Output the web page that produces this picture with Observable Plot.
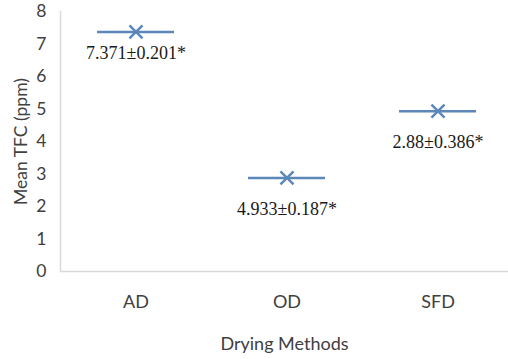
<!DOCTYPE html>
<html>
<head>
<meta charset="utf-8">
<script src="https://cdn.jsdelivr.net/npm/d3@7"></script>
<script src="https://cdn.jsdelivr.net/npm/@observablehq/plot@0.6"></script>
<style>
  html, body { margin: 0; padding: 0; background: #fff; }
</style>
</head>
<body>
<div id="chart"></div>
<script>
const methods = ["AD", "OD", "SFD"];
const means = [7.371, 2.88, 4.933];
const valueLabels = ["7.371±0.201*", "4.933±0.187*", "2.88±0.386*"];
const yTicks = [0, 1, 2, 3, 4, 5, 6, 7, 8];

const data = methods.map((m, i) => ({method: m, mean: means[i], label: valueLabels[i]}));
const lineColor = "#5b87b9";

const chart = Plot.plot({
  width: 508,
  height: 359,
  marginTop: 11,
  marginBottom: 88,
  marginLeft: 60,
  marginRight: 0,
  style: {background: "#fff", fontFamily: "Lato, sans-serif", fontSize: "18px", color: "#404040", overflow: "visible"},
  x: {domain: methods, range: [60, 513], padding: 0},
  y: {domain: [0, 8]},
  marks: [
    Plot.ruleY([0], {stroke: "#d9d9d9", strokeWidth: 1.5}),
    Plot.frame({anchor: "left", stroke: "#d9d9d9", strokeWidth: 1.5}),
    Plot.axisY({ticks: yTicks, tickSize: 0, tickPadding: 14, tickFormat: d3.format("d"),
      label: "Mean TFC (ppm)", labelAnchor: "center", labelArrow: "none", labelOffset: 46,
      fill: "#404040", fontSize: 17.5}),
    Plot.axisX({tickSize: 0, tickPadding: 24, label: "Drying Methods", labelAnchor: "center",
      labelArrow: "none", labelOffset: 78, fill: "#404040", fontSize: 18}),
    Plot.tickY(data, {x: "method", y: "mean", stroke: lineColor, strokeWidth: 2.5, insetLeft: 37, insetRight: 37}),
    Plot.dot(data, {x: "method", y: "mean", symbol: "times", r: 6, stroke: lineColor, strokeWidth: 2.5}),
    Plot.text(data.filter(d => d.method === "AD"), {x: "method", y: "mean", text: "label", dy: 21,
      fontFamily: "Liberation Serif, Times New Roman, serif", fontSize: 18, fill: "#1a1a1a"}),
    Plot.text(data.filter(d => d.method !== "AD"), {x: "method", y: "mean", text: "label", dy: 31,
      fontFamily: "Liberation Serif, Times New Roman, serif", fontSize: 18, fill: "#1a1a1a"})
  ]
});
document.getElementById("chart").appendChild(chart);
</script>
</body>
</html>
